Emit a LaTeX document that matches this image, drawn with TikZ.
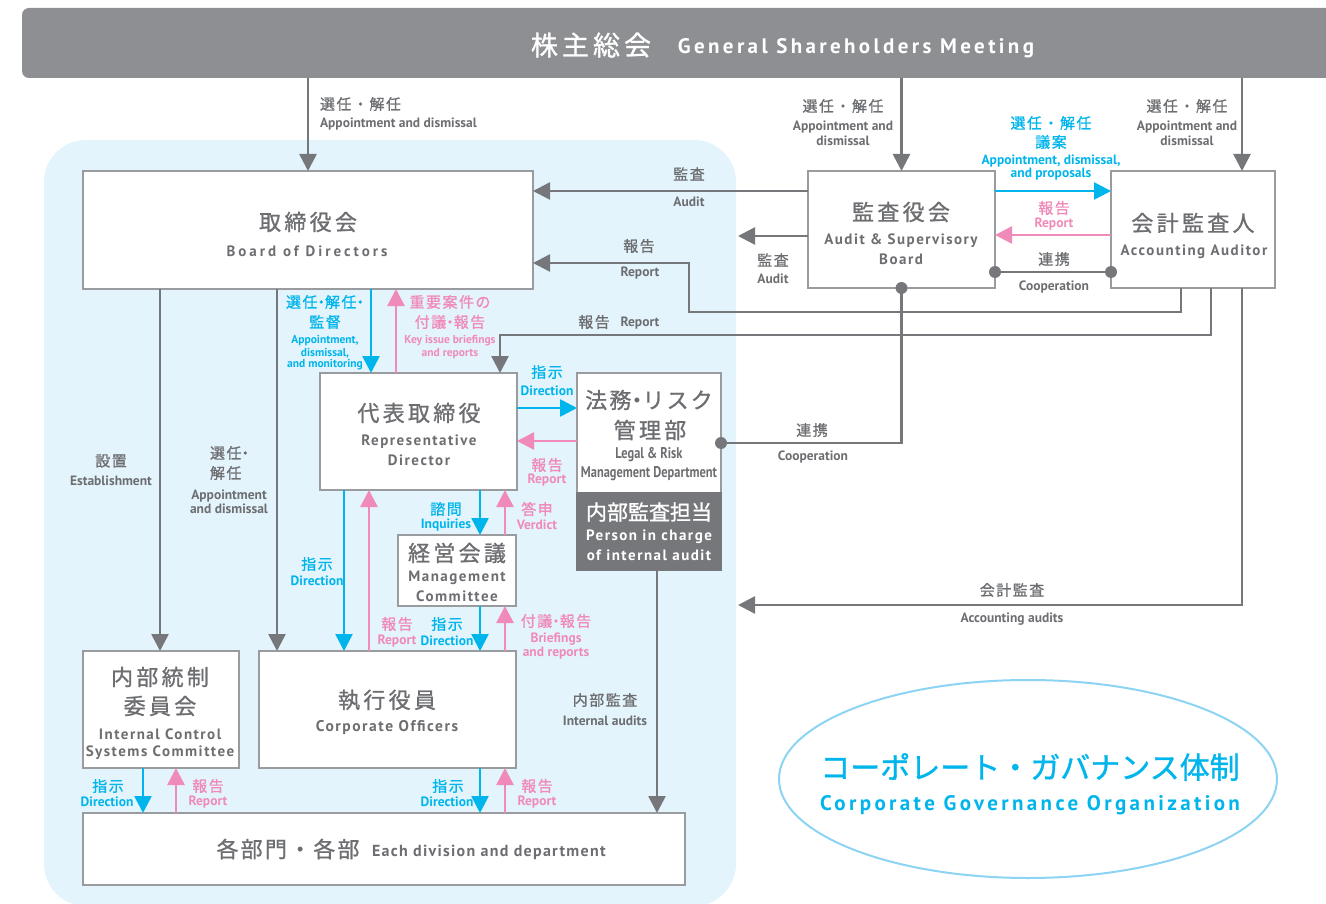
\documentclass[tikz,border=0pt]{standalone}
\usepackage{fontspec}
\setmainfont{PT Sans}
\newfontfamily\ens{PT Sans}[LetterSpace=10]
\newfontfamily\ensw{PT Sans}[LetterSpace=16]
\newfontfamily\ensb{PT Sans}[LetterSpace=20]
\newfontfamily\ense{PT Sans}[LetterSpace=8]
\newfontfamily\enc{PT Sans}[FakeStretch=0.8]
\newfontfamily\jp{Noto Sans CJK JP}[LetterSpace=10, FakeBold=1]
\newfontfamily\jpw{Noto Sans CJK JP}[LetterSpace=15, FakeBold=1]
\newfontfamily\jpn{Noto Sans CJK JP}[FakeBold=1]
\newcommand\mdot{\kern-0.25em・\kern-0.25em}
\usetikzlibrary{arrows.meta,calc,shapes.geometric}
\definecolor{gtx}{HTML}{6D6E71}
\definecolor{lnc}{HTML}{76777A}
\definecolor{boxc}{HTML}{9A9B9E}
\definecolor{cyanc}{HTML}{00B5EC}
\definecolor{pinkc}{HTML}{F08BB9}
\definecolor{panelc}{HTML}{E3F4FC}
\definecolor{bannerc}{HTML}{8E8F93}
\definecolor{ellc}{HTML}{8DD3F4}
\tikzset{
  every node/.style={inner sep=0pt, outer sep=0pt},
  box/.style={draw=boxc, fill=white, line width=1.3pt, rectangle},
  tjp/.style={font=\jpw\fontsize{22}{26}\selectfont, text=gtx},
  ten/.style={font=\ens\bfseries\fontsize{15}{17}\selectfont, text=gtx},
  tec/.style={font=\enc\bfseries\fontsize{15.5}{17}\selectfont, text=gtx},
  gjp/.style={font=\jp\fontsize{15}{18}\selectfont, text=gtx},
  gen/.style={font=\bfseries\fontsize{13.5}{15}\selectfont, text=gtx},
  cjp/.style={font=\jp\fontsize{15}{18}\selectfont, text=cyanc},
  cen/.style={font=\bfseries\fontsize{13.5}{15}\selectfont, text=cyanc},
  cens/.style={font=\bfseries\fontsize{11.5}{13}\selectfont, text=cyanc},
  pjp/.style={font=\jp\fontsize{15}{18}\selectfont, text=pinkc},
  pen/.style={font=\bfseries\fontsize{13.5}{15}\selectfont, text=pinkc},
  pens/.style={font=\bfseries\fontsize{11.5}{13}\selectfont, text=pinkc},
  gl/.style={draw=lnc, line width=2.6pt},
  tipa/.style={-{Triangle[width=17pt,length=17pt]}},
  ga/.style={gl, tipa},
  ca/.style={draw=cyanc, line width=2.6pt, tipa},
  pa/.style={draw=pinkc, line width=2.6pt, tipa},
  dotc/.style={circle, fill=lnc, minimum size=12pt}
}
\begin{document}
\begin{tikzpicture}[x=1pt,y=-1pt]
\useasboundingbox (0,0) rectangle (1326,904);
% panel
\fill[panelc, rounded corners=42pt] (44,140) rectangle (736,906);
% banner
\node[fill=bannerc, rounded corners=7pt, minimum width=1318pt, minimum height=70pt] (gsm) at (681,43) {};
\node[font=\jpw\fontsize{27}{30}\selectfont, text=white] (gsmj) at (591,45) {株主総会};
\node[font=\ensw\bfseries\fontsize{21}{24}\selectfont, text=white] (gsme) at (856,48) {General Shareholders Meeting};

% boxes
\node[box, minimum width=450pt, minimum height=118pt] (bod) at (308,230) {};
\node[box, minimum width=187pt, minimum height=117pt] (asb) at (901.5,229.5) {};
\node[box, minimum width=164pt, minimum height=117pt] (aa) at (1193,229.5) {};
\node[box, minimum width=197pt, minimum height=117pt] (rd) at (418.5,431.5) {};
\node[box, minimum width=144pt, minimum height=120pt] (legal) at (649,433) {};
\node[box, fill=lnc, draw=lnc, minimum width=144pt, minimum height=77pt] (pic) at (649,531.5) {};
\node[box, minimum width=118pt, minimum height=71pt] (mc) at (457,570.5) {};
\node[box, minimum width=156pt, minimum height=117pt] (ics) at (161,709.5) {};
\node[box, minimum width=257pt, minimum height=117pt] (co) at (387.5,709.5) {};
\node[box, minimum width=602pt, minimum height=72pt] (div) at (384,849) {};
\node[draw=ellc, line width=2pt, ellipse, minimum width=498pt, minimum height=198pt] (ell) at (1028,779) {};

% box texts
\node[tjp] (bodj) at (308,222) {取締役会};
\node[ten, font=\ensb\bfseries\fontsize{15}{17}\selectfont] (bode) at (307,251) {Board of Directors};
\node[tjp] (asbj) at (901,212) {監査役会};
\node[ten] (asbe1) at (901,241) {Audit \& Supervisory};
\node[ten] (asbe2) at (901,259) {Board};
\node[tjp] (aaj) at (1193,223) {会計監査人};
\node[ten] (aae) at (1194,252) {Accounting Auditor};
\node[tjp] (rdj) at (419,413) {代表取締役};
\node[ten] (rde1) at (419,442) {Representative};
\node[ten] (rde2) at (419,460) {Director};
\node[tjp, font=\jp\fontsize{22}{26}\selectfont] (legj1) at (649,400) {法務\mdot リスク};
\node[tjp] (legj2) at (650,430) {管理部};
\node[tec] (lege1) at (649,455) {Legal \& Risk};
\node[tec] (lege2) at (649,474) {Management Department};
\node[tjp, font=\jpn\fontsize{21}{24}\selectfont, text=white] (picj) at (649,512) {内部監査担当};
\node[ten, text=white] (pice1) at (649,537) {Person in charge};
\node[ten, text=white] (pice2) at (649,555) {of internal audit};
\node[tjp] (mcj) at (457,553) {経営会議};
\node[ten] (mce1) at (457,578) {Management};
\node[ten] (mce2) at (457,596) {Committee};
\node[tjp] (icsj1) at (160,677) {内部統制};
\node[tjp] (icsj2) at (160,706) {委員会};
\node[ten] (icse1) at (160,734) {Internal Control};
\node[ten] (icse2) at (160,753) {Systems Committee};
\node[tjp] (coj) at (387,700) {執行役員};
\node[ten, font=\ens\bfseries\fontsize{15.5}{17}\selectfont] (coe) at (387,728) {Corporate Officers};
\node[tjp, font=\jp\fontsize{22}{26}\selectfont] (divj) at (288,849) {各部門・各部};
\node[ten, font=\ense\bfseries\fontsize{16}{18}\selectfont, anchor=west] (dive) at (372,852) {Each division and department};
\node[font=\jpn\fontsize{30}{34}\selectfont, text=cyanc] (ellj) at (1030,767) {コーポレート・ガバナンス体制};
\node[font=\ensw\bfseries\fontsize{21}{24}\selectfont, text=cyanc] (elle) at (1030,805) {Corporate Governance Organization};

% helper coordinates
\coordinate (x143) at (143,0); \coordinate (x160) at (160,0); \coordinate (x176) at (176,0);
\coordinate (x277) at (277,0); \coordinate (x344) at (344,0); \coordinate (x369) at (369,0);
\coordinate (x371) at (371,0); \coordinate (x396) at (396,0); \coordinate (x480) at (480,0);
\coordinate (x500) at (500,0); \coordinate (x505) at (505,0); \coordinate (x657) at (657,0);
\coordinate (x1181) at (1181,0); \coordinate (x1211) at (1211,0); \coordinate (x1242) at (1242,0);
\coordinate (y191) at (0,191); \coordinate (y235) at (0,235); \coordinate (y272) at (0,272);
\coordinate (y263) at (0,263); \coordinate (y408) at (0,408); \coordinate (y441) at (0,441);
\coordinate (y443) at (0,443);
\coordinate (k1) at (689,312); \coordinate (k2) at (500,335); \coordinate (k3) at (738,605);
\coordinate (auditEnd) at (738,236);

% connectors
\draw[ga] (gsm.south -| bod.north) -- (bod.north);
\draw[ga] (gsm.south -| asb.north) -- (asb.north);
\draw[ga] (gsm.south -| x1242) -- (aa.north -| x1242);
\draw[ca] (asb.east |- y191) -- (aa.west |- y191);
\draw[pa] (aa.west |- y235) -- (asb.east |- y235);
\draw[gl] (asb.east |- y272) -- (aa.west |- y272);
\node[dotc] (d1) at (asb.east |- y272) {};
\node[dotc] (d2) at (aa.west |- y272) {};
\draw[ga] (asb.west |- y191) -- (bod.east |- y191);
\draw[ga] (asb.west |- auditEnd) -- (auditEnd);
\draw[ga] (aa.south -| x1181) |- (k1) |- (bod.east |- y263);
\draw[ga] (aa.south -| x1211) |- (k2) -- (rd.north -| x500);
\draw[ga] (aa.south -| x1242) |- (k3);
\draw[gl] (asb.south) |- (legal.east |- y443);
\node[dotc] (d3) at (asb.south) {};
\node[dotc] (d4) at (legal.east |- y443) {};
\draw[ga] (bod.south -| x160) -- (ics.north -| x160);
\draw[ga] (bod.south -| x277) -- (co.north -| x277);
\draw[ca] (bod.south -| x371) -- (rd.north -| x371);
\draw[pa] (rd.north -| x396) -- (bod.south -| x396);
\draw[ca] (rd.east |- y408) -- (legal.west |- y408);
\draw[pa] (legal.west |- y441) -- (rd.east |- y441);
\draw[ca] (rd.south -| x480) -- (mc.north -| x480);
\draw[pa] (mc.north -| x505) -- (rd.south -| x505);
\draw[ca] (rd.south -| x344) -- (co.north -| x344);
\draw[pa] (co.north -| x369) -- (rd.south -| x369);
\draw[ca] (mc.south -| x480) -- (co.north -| x480);
\draw[pa] (co.north -| x505) -- (mc.south -| x505);
\draw[ca] (ics.south -| x143) -- (div.north -| x143);
\draw[pa] (div.north -| x176) -- (ics.south -| x176);
\draw[ca] (co.south -| x480) -- (div.north -| x480);
\draw[pa] (div.north -| x505) -- (co.south -| x505);
\draw[ga] (pic.south -| x657) -- (div.north -| x657);

% labels
\node[gjp, anchor=west] (l1j) at (320,104) {選任・解任};
\node[gen, anchor=west] (l1e) at (320,124) {Appointment and dismissal};
\node[gjp] (l2j) at (843,106) {選任・解任};
\node[gen] (l2e1) at (843,127) {Appointment and};
\node[gen] (l2e2) at (843,141) {dismissal};
\node[gjp] (l3j) at (1187,106) {選任・解任};
\node[gen] (l3e1) at (1187,127) {Appointment and};
\node[gen] (l3e2) at (1187,141) {dismissal};
\node[cjp] (l4j1) at (1051,123) {選任・解任};
\node[cjp] (l4j2) at (1051,142) {議案};
\node[cen] (l4e1) at (1051,161) {Appointment, dismissal,};
\node[cen] (l4e2) at (1051,174) {and proposals};
\node[pjp] (l5j) at (1054,208) {報告};
\node[pen] (l5e) at (1054,224) {Report};
\node[gjp] (l6j) at (1054,259) {連携};
\node[gen] (l6e) at (1054,287) {Cooperation};
\node[gjp] (l7j) at (689,174) {監査};
\node[gen] (l7e) at (689,202) {Audit};
\node[gjp] (l8j) at (773,260) {監査};
\node[gen] (l8e) at (773,279) {Audit};
\node[gjp] (l9j) at (639,246) {報告};
\node[gen] (l9e) at (640,273) {Report};
\node[gjp] (l10j) at (594,322) {報告};
\node[gen] (l10e) at (640,323) {Report};
\node[gjp] (l11j) at (1012,590) {会計監査};
\node[gen] (l11e) at (1012,619) {Accounting audits};
\node[gjp] (l12j) at (812,430) {連携};
\node[gen] (l12e) at (813,457) {Cooperation};
\node[gjp] (l13j) at (111,461) {設置};
\node[gen] (l13e) at (111,481) {Establishment};
\node[gjp, anchor=west] (l14j1) at (210,453) {選任\mdot};
\node[gjp, anchor=west] (l14j2) at (210,473) {解任};
\node[gen] (l14e1) at (229,496) {Appointment};
\node[gen] (l14e2) at (229,509) {and dismissal};
\node[cjp] (l15j1) at (325,302) {選任\mdot 解任\mdot};
\node[cjp] (l15j2) at (325,322) {監督};
\node[cens] (l15e1) at (325,341) {Appointment,};
\node[cens] (l15e2) at (325,353) {dismissal,};
\node[cens] (l15e3) at (325,365) {and monitoring};
\node[pjp] (l16j1) at (450,302) {重要案件の};
\node[pjp] (l16j2) at (450,322) {付議\mdot 報告};
\node[pens] (l16e1) at (450,341) {Key issue briefings};
\node[pens] (l16e2) at (450,354) {and reports};
\node[cjp] (l17j) at (547,372) {指示};
\node[cen] (l17e) at (547,391) {Direction};
\node[pjp] (l18j) at (547,465) {報告};
\node[pen] (l18e) at (547,480) {Report};
\node[cjp] (l19j) at (446,509) {諮問};
\node[cen] (l19e) at (446,525) {Inquiries};
\node[pjp] (l20j) at (537,509) {答申};
\node[pen] (l20e) at (537,525) {Verdict};
\node[cjp] (l21j) at (317,564) {指示};
\node[cen] (l21e) at (317,581) {Direction};
\node[pjp] (l22j) at (397,624) {報告};
\node[pen] (l22e) at (397,641) {Report};
\node[cjp] (l23j) at (447,624) {指示};
\node[cen] (l23e) at (447,641) {Direction};
\node[pjp] (l24j) at (556,621) {付議\mdot 報告};
\node[pen] (l24e1) at (556,639) {Briefings};
\node[pen] (l24e2) at (556,653) {and reports};
\node[cjp] (l25j) at (108,786) {指示};
\node[cen] (l25e) at (107,802) {Direction};
\node[pjp] (l26j) at (208,786) {報告};
\node[pen] (l26e) at (208,802) {Report};
\node[cjp] (l27j) at (448,786) {指示};
\node[cen] (l27e) at (447,802) {Direction};
\node[pjp] (l28j) at (537,786) {報告};
\node[pen] (l28e) at (537,802) {Report};
\node[gjp] (l29j) at (605,700) {内部監査};
\node[gen] (l29e) at (605,721) {Internal audits};
\end{tikzpicture}
\end{document}
